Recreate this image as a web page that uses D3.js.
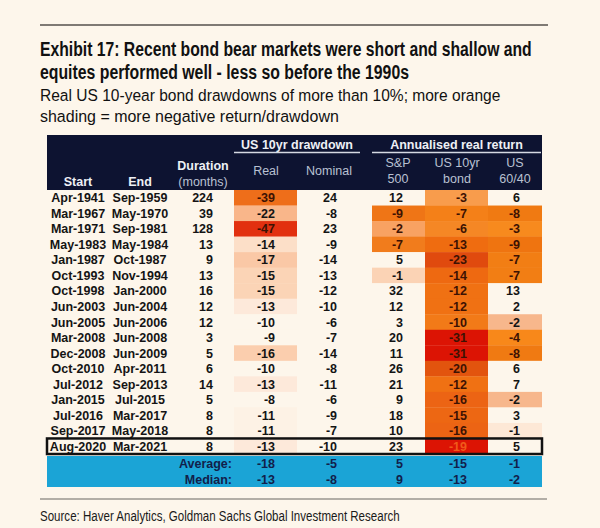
<!DOCTYPE html>
<html>
<head>
<meta charset="utf-8">
<script src="https://cdn.jsdelivr.net/npm/d3@7/dist/d3.min.js"></script>
<style>
  html, body { margin: 0; padding: 0; background: #fdf6eb; }
  svg { display: block; }
</style>
</head>
<body>
<svg id="chart" width="600" height="528"></svg>
<script>
// ---------------- DATA ----------------
const titleLines = [
  "Exhibit 17: Recent bond bear markets were short and shallow and",
  "equites performed well - less so before the 1990s"
];
const subtitleLines = [
  "Real US 10-year bond drawdowns of more than 10%; more orange",
  "shading = more negative return/drawdown"
];
const sourceText = "Source: Haver Analytics, Goldman Sachs Global Investment Research";

const starts = ["Apr-1941","Mar-1967","Mar-1971","May-1983","Jan-1987","Oct-1993","Oct-1998","Jun-2003","Jun-2005","Mar-2008","Dec-2008","Oct-2010","Jul-2012","Jan-2015","Jul-2016","Sep-2017","Aug-2020"];
const ends   = ["Sep-1959","May-1970","Sep-1981","May-1984","Oct-1987","Nov-1994","Jan-2000","Jun-2004","Jun-2006","Jun-2008","Jun-2009","Apr-2011","Sep-2013","Jul-2015","Mar-2017","May-2018","Mar-2021"];
const durationMonths = [224,39,128,13,9,13,16,12,12,3,5,6,14,5,8,8,8];
const realDrawdown    = [-39,-22,-47,-14,-17,-15,-15,-13,-10,-9,-16,-10,-13,-8,-11,-11,-13];
const nominalDrawdown = [24,-8,23,-9,-14,-13,-12,-10,-6,-7,-14,-8,-11,-6,-9,-7,-10];
const sp500Return     = [12,-9,-2,-7,5,-1,32,12,3,20,11,26,21,9,18,10,23];
const bondReturn      = [-3,-7,-6,-13,-23,-14,-12,-12,-10,-31,-31,-20,-12,-16,-15,-16,-19];
const us6040Return    = [6,-8,-3,-9,-7,-7,13,2,-2,-4,-8,6,7,-2,3,-1,5];

const summaryLabels = ["Average:", "Median:"];
const averageValues = [-18, -5, 5, -15, -1];
const medianValues  = [-13, -8, 9, -13, -2];

const groupHeaders = ["US 10yr drawdown", "Annualised real return"];
const columnHeaders = {
  start: ["Start"], end: ["End"], duration: ["Duration", "(months)"],
  real: ["Real"], nominal: ["Nominal"], sp: ["S&P", "500"],
  bond: ["US 10yr", "bond"], mix: ["US", "60/40"]
};
const highlightRow = 16; // most recent episode (boxed)

// ---------------- LAYOUT / STYLE ----------------
const BG = "#fdf6eb";
const NAVY = "#0d1331";
const BLUE = "#1ba4d6";
const svg = d3.select("#chart");
svg.append("rect").attr("width", 600).attr("height", 528).attr("fill", BG);

const tableLeft = 46, tableRight = 542;
const headerTop = 135, headerBottom = 190;

const rowY = d3.scaleBand().domain(d3.range(starts.length)).range([190, 454]).paddingInner(0);
const sumY = d3.scaleBand().domain(d3.range(summaryLabels.length)).range([456, 487]);

// colour scales (per column, like the spreadsheet conditional formats)
const realColor = d3.scaleLinear()
  .domain([-47, -39, -22, -17, -15, -13, -10])
  .range(["#e2300f", "#ee6e1a", "#f9b68a", "#fac8a6", "#fbd4b6", "#fde9da", BG]).clamp(true);
const spColor = d3.scaleLinear()
  .domain([-9, -7, -2, -1, 0])
  .range(["#ef7516", "#f17c1c", "#f8a262", "#fbd3b5", BG]).clamp(true);
const bondColor = d3.scaleLinear()
  .domain([-31, -23, -20, -16, -13, -10, -7, -3])
  .range(["#dc1404", "#e04a0e", "#e2540e", "#ec6414", "#ef6c10", "#f27a18", "#f48018", "#f89c4c"]).clamp(true);
const mixColor = d3.scaleLinear()
  .domain([-9, -8, -4, -3, -2, -1, 0])
  .range(["#ef7410", "#f07a12", "#f8881a", "#f78a1e", "#f7b78c", "#fde8d6", BG]).clamp(true);

const columns = [
  { key: "start",    values: starts,          x0: 50,  x1: 106, anchor: "middle", tx: 78 },
  { key: "end",      values: ends,            x0: 110, x1: 170, anchor: "middle", tx: 140 },
  { key: "duration", values: durationMonths,  x0: 175, x1: 230, anchor: "end",    tx: 213, hx: 203 },
  { key: "real",     values: realDrawdown,    x0: 234, x1: 297, anchor: "end",    tx: 275, hx: 266, color: realColor },
  { key: "nominal",  values: nominalDrawdown, x0: 297, x1: 360, anchor: "end",    tx: 337, hx: 329 },
  { key: "sp",       values: sp500Return,     x0: 372, x1: 425, anchor: "end",    tx: 403, hx: 398, color: spColor },
  { key: "bond",     values: bondReturn,      x0: 425, x1: 488, anchor: "end",    tx: 467, hx: 457, color: bondColor },
  { key: "mix",      values: us6040Return,    x0: 488, x1: 542, anchor: "end",    tx: 520, hx: 515, color: mixColor }
];

const bodyFont = "'Liberation Sans', Arial, Helvetica, sans-serif";
const narrowFont = "'Liberation Sans Narrow', 'Arial Narrow', 'Liberation Sans', Arial, sans-serif";

// text fitted to a width by horizontal scaling (keeps true bbox)
function fittedText(str, x, y, width, size, weight) {
  const g = svg.append("g").attr("transform", `translate(${x},${y})`);
  const t = g.append("text").attr("x", 0).attr("y", 0)
    .attr("font-family", narrowFont).attr("font-weight", weight).attr("font-size", size)
    .attr("fill", "#111").text(str);
  const w = t.node().getComputedTextLength();
  if (w > 0) t.attr("transform", `scale(${width / w},1)`);
  return t;
}

// ---------------- TITLE ----------------
svg.append("line").attr("x1", 40).attr("x2", 548).attr("y1", 25).attr("y2", 25)
  .attr("stroke", "#55514c").attr("stroke-width", 1.5);

const titleWidths = [492, 369];
const titleBase = [56, 78.5];
titleLines.forEach((t, i) => fittedText(t, 40, titleBase[i], titleWidths[i], 19.5, "bold"));
const subWidths = [461, 299];
const subBase = [101, 122];
subtitleLines.forEach((t, i) => fittedText(t, 40, subBase[i], subWidths[i], 16.5, "normal"));

// ---------------- HEADER ----------------
svg.append("rect").attr("x", tableLeft + 1).attr("y", headerTop)
  .attr("width", tableRight - tableLeft - 1).attr("height", headerBottom - headerTop).attr("fill", NAVY);

const groups = [
  { label: groupHeaders[0], x0: 234, x1: 360 },
  { label: groupHeaders[1], x0: 372, x1: 541 }
];
groups.forEach(g => {
  svg.append("text").attr("x", (g.x0 + g.x1) / 2).attr("y", 144.5)
    .attr("text-anchor", "middle").attr("dominant-baseline", "central")
    .attr("font-family", bodyFont).attr("font-weight", "bold").attr("font-size", 12.5)
    .attr("fill", "#eef0f5").text(g.label);
  svg.append("line").attr("x1", g.x0).attr("x2", g.x1).attr("y1", 152.5).attr("y2", 152.5)
    .attr("stroke", "#d5d9e3").attr("stroke-width", 1.3);
});

columns.forEach(c => {
  const lines = columnHeaders[c.key];
  const hx = c.hx !== undefined ? c.hx : c.tx;
  let ys;
  if (c.key === "start" || c.key === "end") ys = [181.5];
  else if (c.key === "duration") ys = [166, 181.5];
  else if (lines.length === 1) ys = [171];
  else ys = [163, 178.5];
  lines.forEach((ln, j) => {
    const strong = (c.key === "start" || c.key === "end" || (c.key === "duration" && j === 0));
    svg.append("text").attr("x", hx).attr("y", ys[j])
      .attr("text-anchor", "middle").attr("dominant-baseline", "central")
      .attr("font-family", bodyFont).attr("font-weight", strong ? "bold" : "normal")
      .attr("font-size", 12.5)
      .attr("fill", strong ? "#eef0f5" : "#b9c1d2").text(ln);
  });
});

// ---------------- BODY ----------------
const body = svg.append("g");
columns.forEach(c => {
  if (c.color) {
    body.selectAll(null).data(c.values).enter().append("rect")
      .attr("x", c.x0).attr("width", c.x1 - c.x0)
      .attr("y", (d, i) => rowY(i)).attr("height", rowY.bandwidth() + 0.3)
      .attr("fill", (d, i) => (c.key === "bond" && i === highlightRow) ? bondColor.range()[0] : c.color(d));
  }
});
columns.forEach(c => {
  body.selectAll(null).data(c.values).enter().append("text")
    .attr("x", c.tx).attr("y", (d, i) => rowY(i) + rowY.bandwidth() / 2 + 0.5)
    .attr("text-anchor", c.anchor).attr("dominant-baseline", "central")
    .attr("font-family", bodyFont).attr("font-weight", "bold").attr("font-size", 12.5)
    .attr("fill", (d, i) => {
      if (!c.color) return "#141414";
      const isStrong = (c.key === "bond") || (c.color(d) !== BG && d3.hsl(c.color(d)).l < 0.7);
      if (c.key === "bond" && i === highlightRow) return "#f05a1a";
      return isStrong ? "#3d1203" : "#141414";
    })
    .text(d => d);
});

// highlight box
svg.append("rect").attr("x", tableLeft + 1).attr("y", rowY(highlightRow))
  .attr("width", tableRight - tableLeft - 1).attr("height", rowY.bandwidth())
  .attr("fill", "none").attr("stroke", "#111").attr("stroke-width", 2.5);

// ---------------- SUMMARY ----------------
svg.append("rect").attr("x", tableLeft + 1).attr("y", sumY.range()[0])
  .attr("width", tableRight - tableLeft - 1).attr("height", sumY.range()[1] - sumY.range()[0])
  .attr("fill", BLUE);
const sumCols = columns.filter(c => ["real", "nominal", "sp", "bond", "mix"].includes(c.key));
const summaryRows = [averageValues, medianValues];
summaryLabels.forEach((lab, r) => {
  const cy = sumY(r) + sumY.bandwidth() / 2 + 0.5;
  svg.append("text").attr("x", 232).attr("y", cy)
    .attr("text-anchor", "end").attr("dominant-baseline", "central")
    .attr("font-family", bodyFont).attr("font-weight", "bold").attr("font-size", 12.5)
    .attr("fill", "#12204a").text(lab);
  svg.selectAll(null).data(summaryRows[r]).enter().append("text")
    .attr("x", (d, i) => sumCols[i].tx).attr("y", cy)
    .attr("text-anchor", "end").attr("dominant-baseline", "central")
    .attr("font-family", bodyFont).attr("font-weight", "bold").attr("font-size", 12.5)
    .attr("fill", "#12204a").text(d => d);
});

// ---------------- FOOTER ----------------
svg.append("line").attr("x1", 40).attr("x2", 547).attr("y1", 499).attr("y2", 499)
  .attr("stroke", "#6b6762").attr("stroke-width", 1.2);
fittedText(sourceText, 40, 521, 360, 14.5, "normal").attr("fill", "#1a1a1a");
</script>
</body>
</html>
